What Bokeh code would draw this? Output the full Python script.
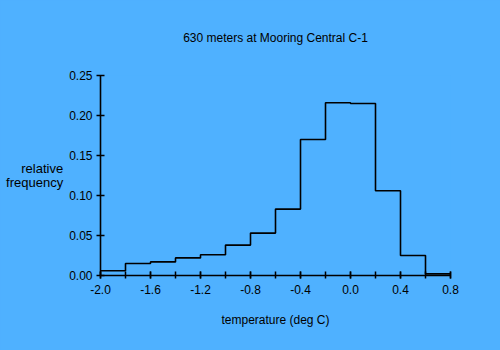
from bokeh.plotting import figure
from bokeh.models import Range1d, FixedTicker, NumeralTickFormatter
from bokeh.embed import file_html
from bokeh.resources import INLINE

bin_edges = [-2.0, -1.8, -1.6, -1.4, -1.2, -1.0, -0.8, -0.6, -0.4, -0.2, 0.0, 0.2, 0.4, 0.6, 0.8]
rel_freq = [0.006, 0.015, 0.017, 0.022, 0.026, 0.038, 0.053, 0.083, 0.170, 0.216, 0.215, 0.106, 0.025, 0.002]
x_tick_labels = [-2.0, -1.6, -1.2, -0.8, -0.4, 0.0, 0.4, 0.8]
y_ticks = [0.0, 0.05, 0.10, 0.15, 0.20, 0.25]

BG = "#4FB1FF"
FONT = "Liberation Sans"

p = figure(width=500, height=350, output_backend="svg", toolbar_location=None,
           x_range=Range1d(-2.0, 0.8), y_range=Range1d(0.0, 0.25),
           min_border_left=100, min_border_right=50, min_border_top=75, min_border_bottom=75,
           background_fill_color=BG, border_fill_color=BG)
p.outline_line_color = None
p.outline_line_alpha = 0
p.styles = {"background-color": BG}

p.title.text = "630 meters at Mooring Central C-1"
p.title.align = "center"
p.title.vertical_align = "top"
p.title.text_font = FONT
p.title.text_font_style = "normal"
p.title.text_font_size = "12px"
p.title.text_color = "black"
p.title.standoff = 58

p.grid.visible = False

xs = bin_edges
ys = rel_freq + [rel_freq[-1]]
p.step(xs, ys, mode="after", line_color="black", line_width=1.6)

xa = p.xaxis[0]
xa.ticker = FixedTicker(ticks=x_tick_labels, minor_ticks=bin_edges)
xa.axis_line_width = 1.6
xa.axis_line_color = "black"
xa.major_tick_in = 4
xa.major_tick_out = 3
xa.minor_tick_in = 4
xa.minor_tick_out = 3
xa.major_tick_line_width = 1.5
xa.minor_tick_line_width = 1.5
xa.major_tick_line_color = "black"
xa.minor_tick_line_color = "black"
xa.major_label_standoff = 6
xa.formatter = NumeralTickFormatter(format="0.0")
xa.major_label_text_font = FONT
xa.major_label_text_font_size = "12px"
xa.major_label_text_color = "black"
xa.axis_label = "temperature (deg C)"
xa.axis_label_text_font = FONT
xa.axis_label_text_font_size = "12px"
xa.axis_label_text_font_style = "normal"
xa.axis_label_text_color = "black"
xa.axis_label_standoff = 16

ya = p.yaxis[0]
ya.ticker = FixedTicker(ticks=y_ticks)
ya.axis_line_width = 1.6
ya.axis_line_color = "black"
ya.major_tick_in = 4
ya.major_tick_out = 4
ya.minor_tick_line_color = None
ya.major_tick_line_width = 1.5
ya.major_tick_line_color = "black"
ya.major_label_standoff = 4
ya.formatter = NumeralTickFormatter(format="0.00")
ya.major_label_text_font = FONT
ya.major_label_text_font_size = "12px"
ya.major_label_text_color = "black"
ya.axis_label = "relative\nfrequency"
ya.axis_label_orientation = "horizontal"
ya.axis_label_text_align = "center"
ya.axis_label_text_font = FONT
ya.axis_label_text_font_size = "13px"
ya.axis_label_text_font_style = "normal"
ya.axis_label_text_color = "black"
ya.axis_label_text_line_height = 0.95
ya.axis_label_standoff = 3

html = file_html(p, INLINE)
html = html.replace("<body>", '<body style="margin:0;background:%s">' % BG, 1)
open("out.html", "w").write(html)
